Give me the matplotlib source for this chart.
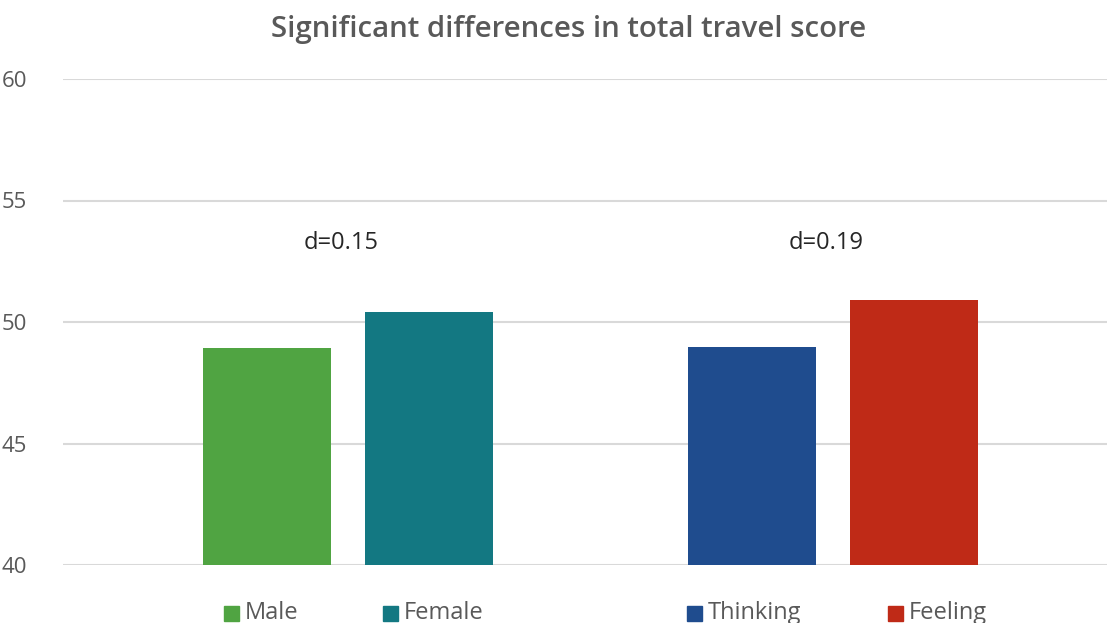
import matplotlib.pyplot as plt
from matplotlib.patches import Rectangle

# data
groups = ['gender', 'type']
labels = ['Male', 'Female', 'Thinking', 'Feeling']
values = [48.93, 50.41, 48.97, 50.9]
colors = ['#50a442', '#137882', '#1f4c8e', '#bf2a17']
d_labels = ['d=0.15', 'd=0.19']
d_y = 53.25

plt.rcParams['font.family'] = ['Open Sans', 'DejaVu Sans']

fig = plt.figure(figsize=(11.07, 6.23), dpi=100)
ax = fig.add_axes([63 / 1107, 1 - 565 / 623, 1 - 63 / 1107, (565 - 79) / 623])

w = 0.264
offs = [-0.167, 0.167]
xs = []
for g in range(len(groups)):
    for k in range(2):
        xs.append(g + offs[k])

ax.bar(xs, values, width=w, color=colors, zorder=3)

for g, txt in enumerate(d_labels):
    ax.text(g - 0.014, d_y, txt, ha='center', va='center', fontsize=17, color='#262626')

ax.set_ylim(40, 60)
ax.set_xlim(-0.588, 1.565)
ax.set_yticks([40, 45, 50, 55, 60])
ax.set_xticks([])
ax.grid(axis='y', color='#d9d9d9', linewidth=1.5, zorder=0)
for s in ax.spines.values():
    s.set_visible(False)
ax.tick_params(axis='y', length=0, pad=26, labelsize=16, labelcolor='#595959')

fig.text(569 / 1107, 1 - 37 / 623, 'Significant differences in total travel score',
         ha='center', va='baseline', fontsize=21.2, fontweight='semibold', color='#595959')

# legend items along the bottom
leg_x = [224, 383, 687, 888]
for px, lab, col in zip(leg_x, labels, colors):
    fig.patches.append(Rectangle((px / 1107, 1 - 621 / 623), 15 / 1107, 15 / 623,
                                 transform=fig.transFigure, color=col))
    fig.text((px + 21) / 1107, 1 - 619 / 623, lab, ha='left', va='baseline',
             fontsize=17, color='#595959')

fig.savefig('out.png', dpi=100)
